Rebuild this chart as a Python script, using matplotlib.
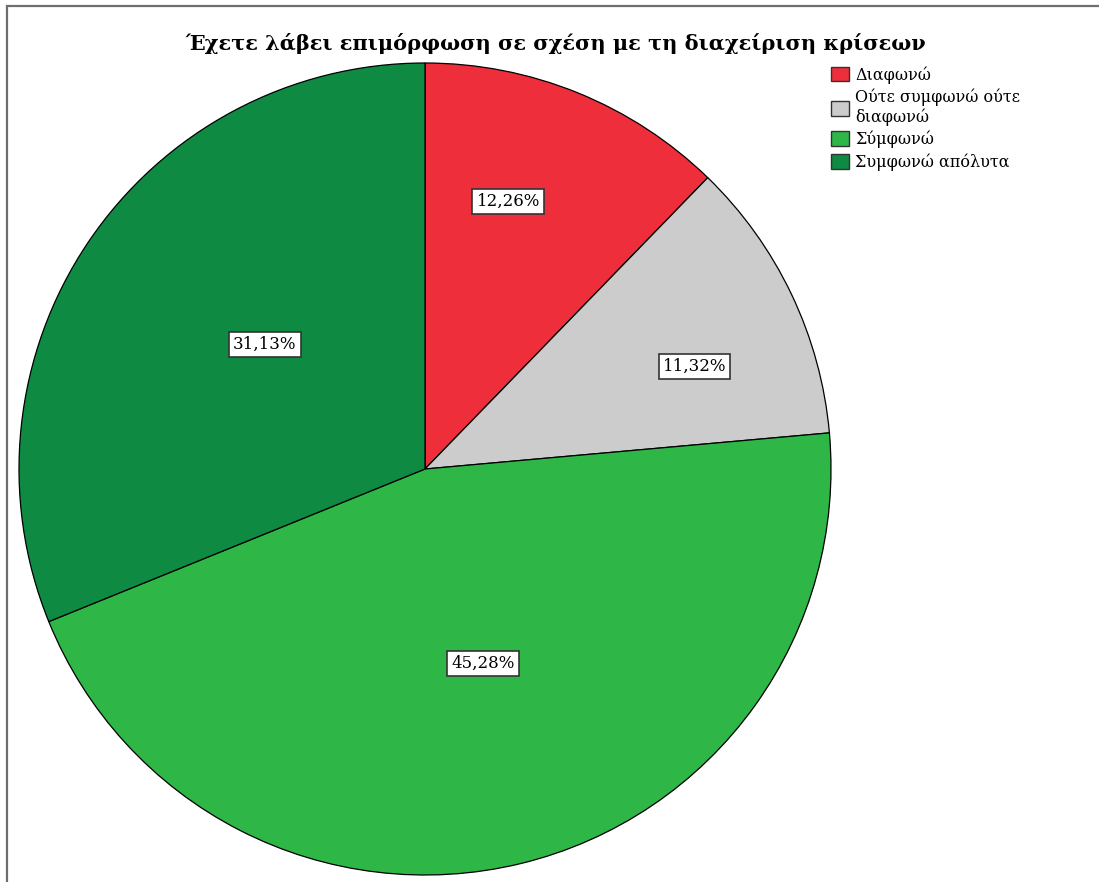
import numpy as np
import matplotlib.pyplot as plt
from matplotlib.patches import Rectangle, Patch

plt.rcParams['font.family'] = ['DejaVu Serif']

categories = ['Διαφωνώ', 'Ούτε συμφωνώ ούτε\nδιαφωνώ', 'Σύμφωνώ', 'Συμφωνώ απόλυτα']
percentages = [12.26, 11.32, 45.28, 31.13]
colors = ['#ee2e3b', '#cccccc', '#2eb747', '#0f8a43']
# placement of each percentage box: fraction of radius, and turn (deg) off the wedge middle
label_dist = [0.69, 0.71, 0.50, 0.50]
label_turn = [4.8, -4.7, 3.0, -3.9]

W, H = 1099, 882
fig = plt.figure(figsize=(W / 100, H / 100), dpi=100)

# outer frame, only top and left edges fall inside the picture
fig.patches.append(Rectangle((7 / W, -0.2), 1.5, 1.2 - 5.5 / H, transform=fig.transFigure,
                             fill=False, edgecolor='#6e6e6e', linewidth=1.6))

cx, cy, r = 425, 469, 406
ax = fig.add_axes([(cx - r) / W, (H - cy - r) / H, 2 * r / W, 2 * r / H])
wedges, _ = ax.pie(percentages, colors=colors, startangle=90, counterclock=False,
                   radius=1, wedgeprops=dict(edgecolor='black', linewidth=0.9))
ax.set_xlim(-1, 1)
ax.set_ylim(-1, 1)
ax.set_aspect('equal')
ax.axis('off')

for w, p, d, t in zip(wedges, percentages, label_dist, label_turn):
    mid = np.deg2rad((w.theta1 + w.theta2) / 2 + t)
    ax.text(d * np.cos(mid), d * np.sin(mid), f'{p:.2f}%'.replace('.', ','),
            ha='center', va='center', fontsize=12,
            bbox=dict(boxstyle='square,pad=0.25', facecolor='white',
                      edgecolor='#333333', linewidth=1.2))

fig.text(556 / W, 1 - 43 / H, 'Έχετε λάβει επιμόρφωση σε σχέση με τη διαχείριση κρίσεων',
         ha='center', va='center', fontsize=15, fontweight='bold')

handles = [Patch(facecolor=c, edgecolor='#333333', linewidth=1) for c in colors]
fig.legend(handles, categories, loc='upper left', bbox_to_anchor=(831 / W, 1 - 66 / H),
           frameon=False, fontsize=11.5, handlelength=1.1, handleheight=1.05,
           handletextpad=0.4, labelspacing=0.3, borderpad=0, borderaxespad=0)

fig.savefig('out.png', dpi=100)
